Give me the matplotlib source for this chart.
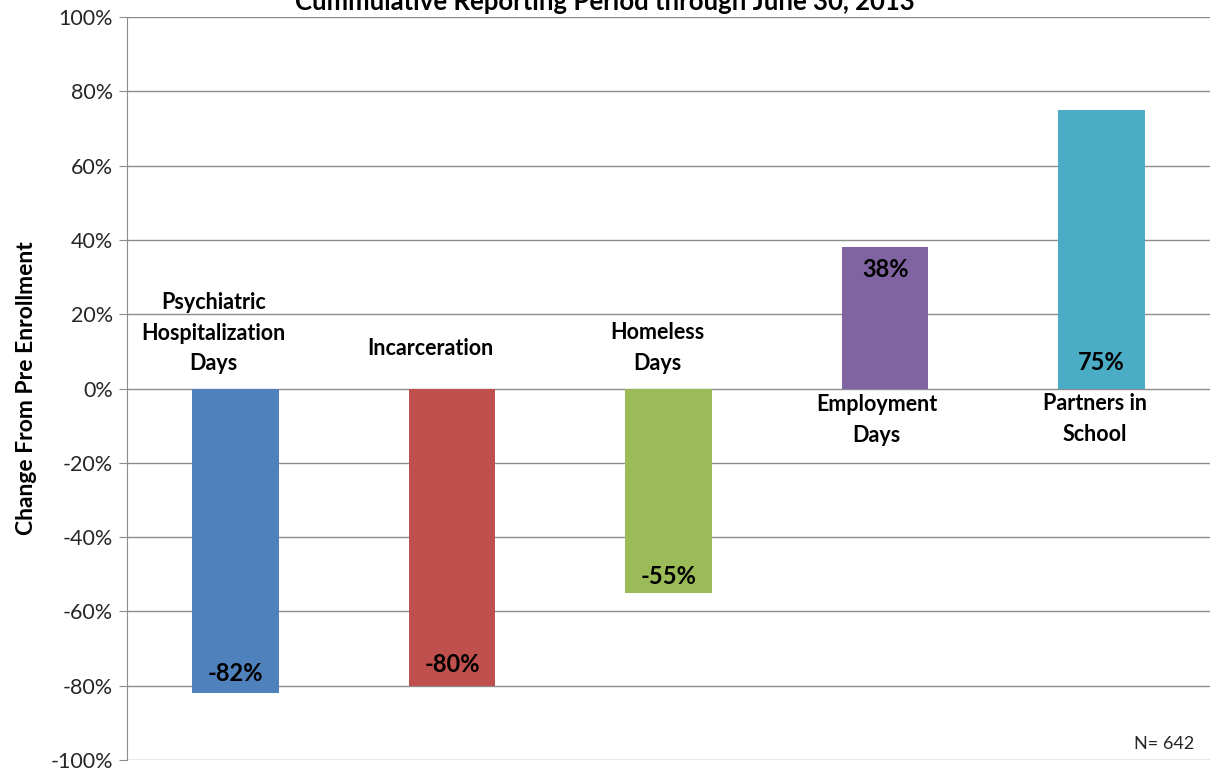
import numpy as np
import matplotlib
matplotlib.use('Agg')
from matplotlib import pyplot as plt
from matplotlib.ticker import FuncFormatter

plt.rcParams['font.family'] = ['Lato', 'DejaVu Sans']

categories = ['Psychiatric\nHospitalization\nDays', 'Incarceration', 'Homeless\nDays',
              'Employment\nDays', 'Partners in\nSchool']
changes = [-82, -80, -55, 38, 75]
colors = ['#4F81BD', '#C0504D', '#9BBB59', '#8064A2', '#4BACC6']
yticks = np.arange(-100, 101, 20)

fig = plt.figure(figsize=(12.1, 7.72), dpi=100)
ax = fig.add_axes([0.105, 0.0155, 0.895, 0.9625])

x = np.arange(len(categories))
ax.bar(x, changes, width=0.40, color=colors, zorder=3)

ax.set_xlim(-0.5, len(categories) - 0.5)
ax.set_ylim(-100, 100)
ax.set_yticks(yticks)
ax.yaxis.set_major_formatter(FuncFormatter(lambda v, p: '%d%%' % v))
ax.set_xticks([])
ax.grid(axis='y', color='#8c8c8c', linewidth=1, zorder=0)
ax.tick_params(axis='y', length=6, color='#8c8c8c', labelsize=15.5, labelcolor='#262626', pad=4)
for s in ['top', 'right', 'bottom']:
    ax.spines[s].set_visible(False)
ax.spines['left'].set_color('#8c8c8c')

ax.set_ylabel('Change From Pre Enrollment', fontsize=16.5, fontweight='bold', labelpad=10)

# category names sit on the opposite side of the zero line from the bar
name_dx = [-0.10, -0.10, -0.05, -0.04, -0.03]
name_y = [14.9, 10.9, 10.9, -8.5, -8.2]
for i, (name, dx, yp) in enumerate(zip(categories, name_dx, name_y)):
    ax.text(i + dx, yp, name, ha='center', va='center', fontsize=15.5,
            fontweight='bold', linespacing=1.55)

# value labels inside the bars
label_pos = [-76.6, -74.4, -50.7, 31.9, 7.1]
for i, (v, yp) in enumerate(zip(changes, label_pos)):
    ax.text(i, yp, '%d%%' % v, ha='center', va='center', fontsize=17,
            fontweight='bold', zorder=4)

fig.text(0.5, 0.987, 'Cummulative Reporting Period through June 30, 2013',
         ha='center', va='baseline', fontsize=18.5, fontweight='bold')
fig.text(0.987, 0.036, 'N= 642', ha='right', va='center', fontsize=13, color='#262626')

fig.savefig('out.png', dpi=100)
